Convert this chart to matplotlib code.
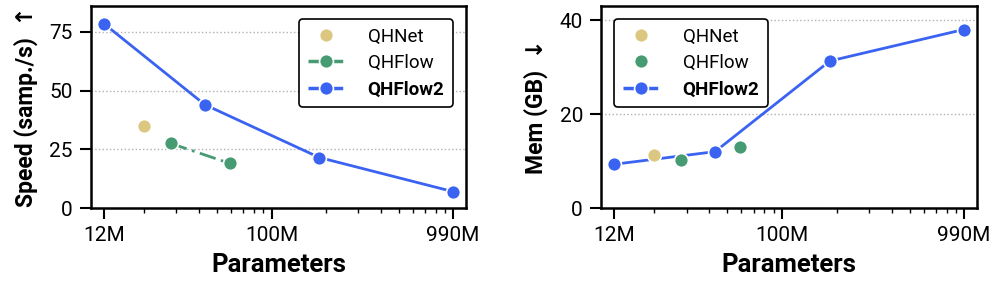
import matplotlib
matplotlib.use("Agg")
import matplotlib.pyplot as plt
from matplotlib.ticker import FixedLocator, FixedFormatter, LogLocator, NullFormatter
from matplotlib.lines import Line2D

plt.rcParams['font.family'] = ['Roboto', 'DejaVu Sans']

# Data (parameters in millions)
qhnet_params = [20]
qhflow_params = [28, 59]
qhflow2_params = [12, 43, 183, 990]

speed_qhnet = [35]
speed_qhflow = [27.5, 19]
speed_qhflow2 = [78.5, 44, 21.5, 7]

mem_qhnet = [11.2]
mem_qhflow = [10.3, 13.0]
mem_qhflow2 = [9.3, 12.0, 31.3, 38.0]

xticks = [12, 100, 990]
xticklabels = ["12M", "100M", "990M"]

c_net = "#DBC77F"
c_flow = "#469B72"
c_flow2 = "#3B63F2"

fig = plt.figure(figsize=(9.96, 2.94), dpi=100)
ax1 = fig.add_axes([0.0914, 0.2925, 0.3765, 0.687])
ax2 = fig.add_axes([0.6034, 0.2925, 0.3775, 0.687])

mk = dict(marker='o', markersize=10, markeredgecolor='white', markeredgewidth=1.2)

def style(ax, ylim, yticks, ylabel):
    ax.set_xscale('log')
    ax.set_xlim(10.2, 1170)
    ax.set_ylim(*ylim)
    ax.xaxis.set_major_locator(FixedLocator(xticks))
    ax.xaxis.set_major_formatter(FixedFormatter(xticklabels))
    ax.xaxis.set_minor_locator(LogLocator(base=10, subs=range(2, 10)))
    ax.xaxis.set_minor_formatter(NullFormatter())
    ax.set_yticks(yticks)
    ax.yaxis.grid(True, linestyle=':', color='#b0b0b0', linewidth=1.0)
    ax.set_axisbelow(True)
    ax.tick_params(axis='both', which='major', labelsize=15, length=8, width=1.5, direction='out', pad=5)
    ax.tick_params(axis='x', which='minor', length=3.5, width=1.0, direction='out')
    for s in ax.spines.values():
        s.set_linewidth(1.8)
    ax.set_xlabel("Parameters", fontsize=18.5, fontweight='bold', labelpad=6)
    ax.set_ylabel(ylabel, fontsize=16.5, fontweight='bold', labelpad=8)

# Left: speed
ax1.plot(qhflow2_params, speed_qhflow2, color=c_flow2, linewidth=2, zorder=3, **mk)
ax1.plot(qhflow_params, speed_qhflow, color=c_flow, linewidth=2, linestyle=(0, (6, 2, 1, 2)), zorder=3, **mk)
ax1.plot(qhnet_params, speed_qhnet, color=c_net, linestyle='none', zorder=3, **mk)
style(ax1, (0, 86), [0, 25, 50, 75], "Speed (samp./s)  ↑")

# Right: memory
ax2.plot(qhflow2_params, mem_qhflow2, color=c_flow2, linewidth=2, zorder=3, **mk)
ax2.plot(qhflow_params, mem_qhflow, color=c_flow, linestyle='none', zorder=3, **mk)
ax2.plot(qhnet_params, mem_qhnet, color=c_net, linestyle='none', zorder=3, **mk)
style(ax2, (0, 43), [0, 20, 40], "Mem (GB)  ↓")

def legend(ax, loc, flow_line):
    h = [
        Line2D([], [], color=c_net, linestyle='none', **mk),
        Line2D([], [], color=c_flow, linestyle=(0, (4, 2)) if flow_line else 'none', linewidth=2.5, **mk),
        Line2D([], [], color=c_flow2, linestyle=(0, (4, 2)), linewidth=2.5, **mk),
    ]
    leg = ax.legend(h, ["QHNet", "QHFlow", "QHFlow2"], loc=loc, fontsize=13.5,
                    frameon=True, fancybox=True, framealpha=1, edgecolor='black',
                    handlelength=2.0, handletextpad=1.2, borderpad=0.45, labelspacing=0.45,
                    borderaxespad=0.7)
    leg.get_frame().set_linewidth(1.2)
    leg.get_texts()[2].set_fontweight('bold')
    return leg

legend(ax1, 'upper right', True)
legend(ax2, 'upper left', False)

fig.savefig("out.png", dpi=100)
